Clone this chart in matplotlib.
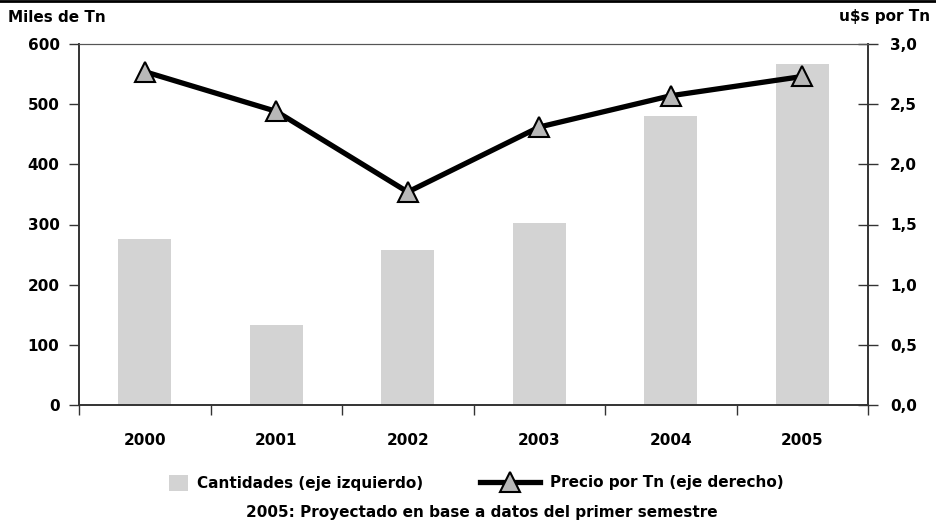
import matplotlib
matplotlib.use("Agg")
import matplotlib.pyplot as plt
from matplotlib.lines import Line2D
from matplotlib.patches import Patch
import numpy as np

# datos
anios = ["2000", "2001", "2002", "2003", "2004", "2005"]
cantidades = [276, 133, 258, 302, 480, 567]      # miles de Tn (eje izquierdo)
precio = [2.77, 2.44, 1.77, 2.31, 2.57, 2.73]    # u$s por Tn (eje derecho)

plt.rcParams['font.family'] = ['DejaVu Sans']
plt.rcParams['font.weight'] = 'bold'
fs = 11

fig = plt.figure(figsize=(9.36, 5.27), dpi=100)
ax = fig.add_axes([79/936, 1-405/527, (868-79)/936, (405-44)/527])
ax2 = ax.twinx()

x = np.arange(len(anios))
ax.bar(x, cantidades, width=0.40, color='#d3d3d3', zorder=1)
ax.set_ylim(0, 600)
ax.set_xlim(-0.5, len(anios)-0.5)
ax.set_yticks(range(0, 601, 100))
ax.set_xticks(np.arange(-0.5, len(anios), 1))
ax.set_xticklabels([])
ax.set_xticks(x, minor=True)
ax.set_xticklabels(anios, minor=True)
ax.tick_params(axis='x', which='major', direction='out', length=7, width=1, color='#333333')
ax.tick_params(axis='x', which='minor', length=0, pad=20, labelsize=fs)
ax.tick_params(axis='y', direction='out', length=7, width=1, color='#333333', labelsize=fs, pad=7)

ax2.plot(x, precio, color='black', lw=3.8, marker='^', markersize=14,
         markerfacecolor='#b8b8b8', markeredgecolor='black', markeredgewidth=1.5, zorder=3)
ax2.set_ylim(0, 3.0)
ax2.set_yticks(np.arange(0, 3.01, 0.5))
ax2.set_yticklabels([f"{v:.1f}".replace('.', ',') for v in np.arange(0, 3.01, 0.5)])
ax2.tick_params(axis='y', direction='inout', length=14, width=1, color='#333333', labelsize=fs, pad=9)

for a in (ax, ax2):
    for s in a.spines.values():
        s.set_color('#333333')
        s.set_linewidth(1.2)
    a.spines['top'].set_color('#555555')
    a.spines['top'].set_linewidth(0.8)

fig.text(8/936, 1-17/527, "Miles de Tn", fontsize=fs, va='center', ha='left')
fig.text(930/936, 1-17/527, "u$s por Tn", fontsize=fs, va='center', ha='right')

# leyenda en dos partes para dar distinto largo a cada simbolo
h1 = Patch(facecolor='#d3d3d3', edgecolor='none')
h2 = Line2D([], [], color='black', lw=3.8, marker='^', markersize=14,
            markerfacecolor='#b8b8b8', markeredgecolor='black', markeredgewidth=1.5)
fig.legend([h1], ["Cantidades (eje izquierdo)"], loc='center left',
           bbox_to_anchor=(169/936, 1-483/527), frameon=False, fontsize=fs,
           borderpad=0, borderaxespad=0, handlelength=1.25, handleheight=1.2,
           handletextpad=0.6)
fig.legend([h2], ["Precio por Tn (eje derecho)"], loc='center left',
           bbox_to_anchor=(480/936, 1-483/527), frameon=False, fontsize=fs,
           borderpad=0, borderaxespad=0, handlelength=3.9, handletextpad=0.7)

fig.text(482/936, 1-512/527, "2005: Proyectado en base a datos del primer semestre",
         fontsize=fs, ha='center', va='center')

fig.add_artist(Line2D([0, 1], [1-1/527, 1-1/527], color='black', lw=2, transform=fig.transFigure))

fig.savefig('out.png', dpi=100)
